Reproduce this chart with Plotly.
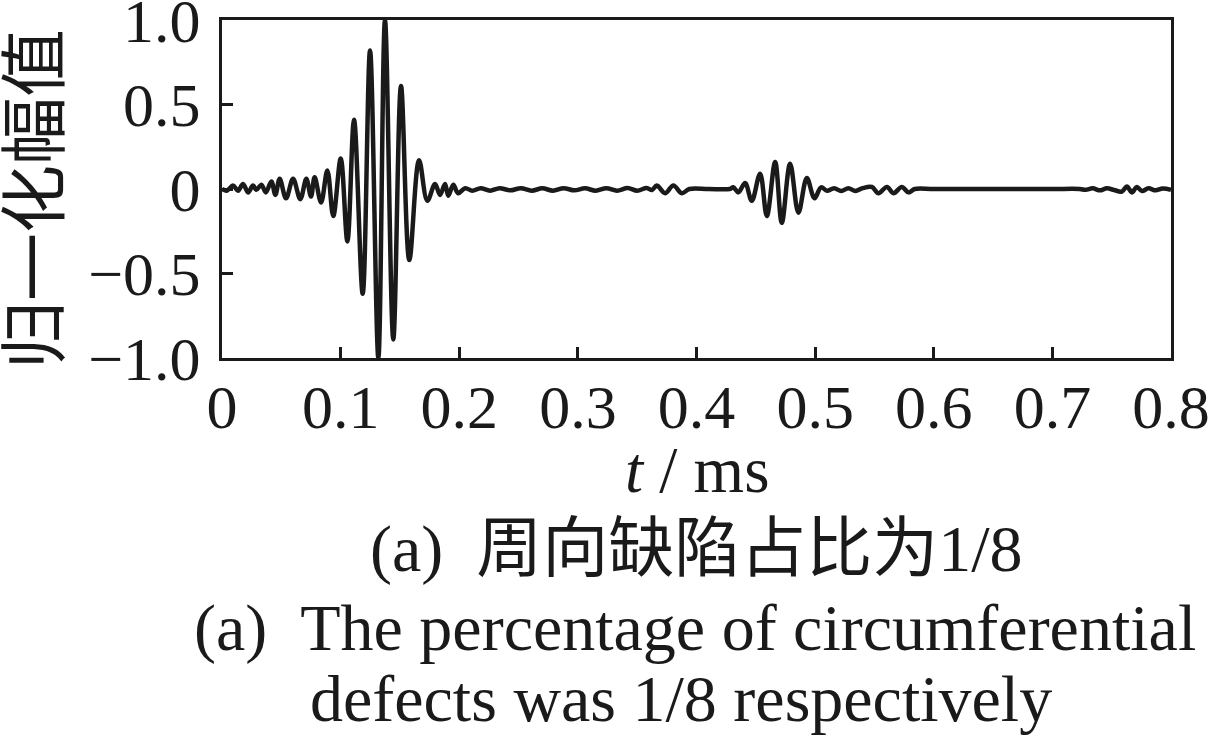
import plotly.graph_objects as go

# time (ms) and normalized amplitude read at the turning points of the trace
t_pre = [0.000, 0.004, 0.0093, 0.0135, 0.0177, 0.022, 0.0261, 0.029, 0.0332, 0.037,
         0.0416, 0.045, 0.0486, 0.054, 0.0599, 0.066, 0.0711, 0.075, 0.0781, 0.0835]
v_pre = [0.0, -0.01, 0.02, -0.01, 0.03, -0.02, 0.02, -0.005, 0.025, -0.02,
         0.045, -0.035, 0.06, -0.055, 0.06, -0.06, 0.06, -0.045, 0.07, -0.08]

t_main = [0.0888, 0.0938, 0.1001, 0.1057, 0.1113, 0.1186, 0.1248, 0.1318, 0.1374,
          0.1444, 0.1509, 0.1579, 0.1661, 0.1731]
v_main = [0.11, -0.16, 0.18, -0.31, 0.41, -0.62, 0.82, -1.0, 1.0,
          -0.89, 0.61, -0.42, 0.17, -0.07]

t_mid = [0.1796, 0.1838, 0.188, 0.1908, 0.195, 0.199, 0.205, 0.211, 0.218, 0.226,
         0.234, 0.243, 0.252, 0.261, 0.270, 0.279, 0.288, 0.297, 0.306, 0.315,
         0.324, 0.333, 0.342, 0.350, 0.358, 0.3625, 0.3665, 0.3735, 0.3805, 0.3876,
         0.394, 0.410, 0.428]
v_mid = [0.03, -0.035, 0.03, -0.04, 0.025, -0.025, 0.005, -0.01, 0.005, -0.01,
         0.005, -0.008, 0.005, -0.01, 0.004, -0.01, 0.005, -0.008, 0.004, -0.01,
         0.005, -0.01, 0.006, -0.01, 0.006, -0.006, 0.02, -0.025, 0.02, -0.025,
         0.0, 0.0, 0.0]

t_echo = [0.431, 0.4353, 0.441, 0.4466, 0.4536, 0.4593, 0.4663, 0.4719, 0.4789,
          0.4859, 0.493, 0.4995]
v_echo = [0.01, -0.02, 0.035, -0.07, 0.09, -0.16, 0.16, -0.20, 0.15,
          -0.14, 0.065, -0.055]

t_post = [0.505, 0.510, 0.516, 0.522, 0.528, 0.534, 0.540, 0.5478, 0.5534, 0.5605,
          0.566, 0.5731, 0.5787, 0.584, 0.600, 0.650, 0.700, 0.723, 0.728, 0.734,
          0.740, 0.746, 0.752, 0.7586, 0.7628, 0.767, 0.7712, 0.7755, 0.781, 0.787,
          0.793, 0.800]
v_post = [0.01, -0.01, 0.005, -0.012, 0.005, -0.012, 0.005, 0.012, -0.025, 0.012,
          -0.025, 0.012, -0.02, 0.0, 0.0, 0.0, 0.0, 0.0, -0.005, 0.004,
          -0.008, 0.004, -0.006, -0.015, 0.015, -0.02, 0.012, -0.012, 0.004, -0.008,
          0.003, -0.005]

x_ticks = [0, 0.1, 0.2, 0.3, 0.4, 0.5, 0.6, 0.7, 0.8]
x_ticklabels = ["0", "0.1", "0.2", "0.3", "0.4", "0.5", "0.6", "0.7", "0.8"]
y_ticks = [-1.0, -0.5, 0, 0.5, 1.0]
y_ticklabels = ["\u22121.0", "\u22120.5", "0", "0.5", "1.0"]

t_all = t_pre + t_main + t_mid + t_echo + t_post
v_all = v_pre + v_main + v_mid + v_echo + v_post

SERIF = "Liberation Serif, Noto Sans CJK SC"
INK = "#1a1a1a"
L, R, T, B = 222, 44, 20, 386
PW, PH = 1215 - L - R, 744 - T - B

fig = go.Figure()
fig.add_trace(go.Scatter(x=t_all, y=v_all, mode="lines",
                         line=dict(color=INK, width=4.5, shape="spline", smoothing=1.0),
                         hoverinfo="skip"))

axis_common = dict(showline=True, linewidth=3, linecolor=INK, mirror=True,
                   ticks="inside", ticklen=11, tickwidth=3, tickcolor=INK,
                   showgrid=False, zeroline=False, automargin=False,
                   ticklabeloverflow="allow",
                   tickfont=dict(family=SERIF, size=62, color=INK))

fig.update_layout(
    width=1215, height=744,
    margin=dict(l=L, r=R, t=T, b=B),
    plot_bgcolor="white", paper_bgcolor="white",
    showlegend=False,
    xaxis=dict(range=[0, 0.8], tickvals=x_ticks, ticktext=x_ticklabels,
               ticklabelstandoff=-7, **axis_common),
    yaxis=dict(range=[-1.0, 1.0], tickvals=y_ticks, ticktext=y_ticklabels,
               ticklabelstandoff=6, **axis_common),
)

def ann(text, x_px, y_px, size, angle=0):
    fig.add_annotation(text=text, xref="paper", yref="paper",
                       x=(x_px - L) / PW, y=(744 - B - y_px) / PH,
                       xanchor="center", yanchor="middle", showarrow=False,
                       textangle=angle,
                       font=dict(family=SERIF, size=size, color=INK))

NB = "\u00a0\u00a0"
ann("归一化幅值", 36, 199, 68, angle=-90)
ann("<i>t</i> / ms", 697, 470, 65)
ann("(a)" + NB + "周向缺陷占比为1/8", 696, 549, 66)
ann("(a)" + NB + "The percentage of circumferential", 695, 628, 66)
ann("defects was 1/8 respectively", 681, 698, 66)

fig.write_html("out.html",
               config={"displayModeBar": False},
               post_script="document.body.style.margin='0px';document.body.style.overflow='hidden';")
